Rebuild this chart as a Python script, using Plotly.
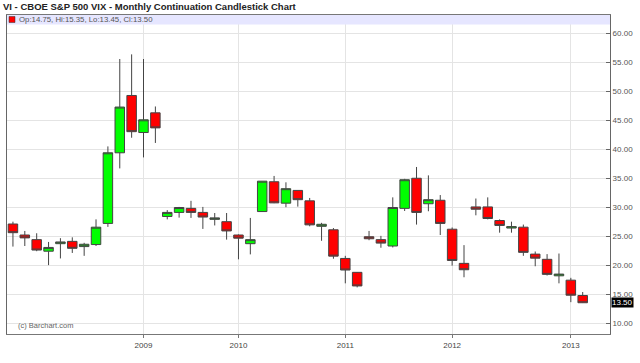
import plotly.graph_objects as go

# ---- data (monthly continuation bars) ----
bar_no = list(range(49))
opens = [27.1, 25.2, 24.4, 22.4, 23.7, 24.1, 23.2, 23.55, 27.2, 39.4, 49.3, 42.9, 46.3,
         28.4, 29.1, 29.8, 29.1, 27.9, 27.5, 25.2, 23.7, 29.25, 34.4, 30.7, 32.9, 31.1,
         26.7, 26.1, 21.15, 18.75, 24.9, 24.4, 23.3, 29.8, 35.0, 30.6, 31.2, 26.2, 20.3,
         30.05, 30.05, 27.7, 26.4, 26.55, 21.9, 21.0, 18.15, 17.4, 14.75]
highs = [27.5, 25.9, 25.5, 24.0, 24.65, 24.8, 23.85, 27.9, 40.5, 55.6, 56.4, 55.6, 47.4,
         29.5, 30.05, 31.1, 30.05, 29.0, 29.0, 25.3, 28.15, 34.5, 35.4, 34.3, 32.9, 31.6,
         27.3, 26.4, 21.6, 18.8, 25.9, 25.05, 31.7, 34.9, 36.95, 35.5, 32.1, 26.5, 23.45,
         31.5, 31.7, 27.9, 27.5, 27.0, 22.35, 21.9, 22.0, 17.8, 15.35]
lows = [23.2, 23.3, 22.4, 20.0, 21.15, 22.1, 21.6, 23.3, 26.6, 36.7, 42.0, 38.6, 41.1,
        27.9, 28.2, 28.15, 26.25, 26.85, 24.4, 21.0, 21.85, 29.2, 30.7, 30.0, 30.1, 26.7,
        24.2, 21.1, 16.85, 16.15, 24.3, 23.0, 23.05, 29.35, 27.0, 29.3, 25.2, 19.9, 17.9,
        28.6, 27.9, 25.6, 25.6, 21.6, 19.8, 18.2, 16.85, 13.6, 13.45]
closes = [25.6, 24.7, 22.6, 23.05, 24.0, 22.9, 23.6, 26.55, 39.4, 47.3, 43.05, 45.1, 43.7,
          29.1, 29.95, 29.1, 28.3, 28.15, 25.9, 24.65, 24.4, 34.5, 30.75, 33.2, 31.3, 26.95,
          27.05, 21.55, 19.15, 16.4, 24.55, 23.8, 29.95, 34.75, 29.1, 31.3, 27.2, 20.8, 19.2,
          29.65, 28.05, 26.85, 26.65, 22.2, 21.2, 18.4, 18.45, 14.8, 13.50]

year_start_bar = [11, 19, 28, 37, 47]
year_labels = ["2009", "2010", "2011", "2012", "2013"]
price_ticks = [10, 15, 20, 25, 30, 35, 40, 45, 50, 55, 60]

title_text = "VI - CBOE S&P 500 VIX - Monthly Continuation Candlestick Chart"

fig = go.Figure()
fig.add_trace(go.Candlestick(
    x=bar_no, open=opens, high=highs, low=lows, close=closes,
    increasing=dict(fillcolor="#00FF00", line=dict(color="#444444", width=1)),
    decreasing=dict(fillcolor="#FF0000", line=dict(color="#444444", width=1)),
    showlegend=False, hoverinfo="skip",
))

W, H = 640, 363
ml, mr, mt, mb = 7, 30, 15, 29
pw, ph = W - ml - mr, H - mt - mb

last = closes[-1]
legend_txt = "Op:%.2f, Hi:%.2f, Lo:%.2f, Cl:%.2f" % (opens[-1], highs[-1], lows[-1], closes[-1])

fig.update_layout(
    width=W, height=H,
    margin=dict(l=ml, r=mr, t=mt, b=mb, pad=0),
    paper_bgcolor="white", plot_bgcolor="white",
    boxgap=0.2, boxgroupgap=0,
    title=dict(text="<b>" + title_text + "</b>", xref="container", yref="container",
               x=3 / W, xanchor="left", y=1 - 7 / H, yanchor="middle",
               font=dict(family="Liberation Sans, Arial", size=9.5, color="#222222")),
    xaxis=dict(range=[-0.5, 50.3], tickmode="array", tickvals=year_start_bar, ticktext=year_labels,
               showgrid=True, gridcolor="#e4e4e4", gridwidth=1,
               showline=True, linecolor="#777777", mirror=True, linewidth=1,
               ticks="outside", ticklen=3, tickcolor="#777777",
               tickfont=dict(family="Liberation Sans, Arial", size=8, color="#444444"),
               rangeslider=dict(visible=False), zeroline=False, fixedrange=True),
    yaxis=dict(range=[8.1, 63.2], side="right", tickmode="array", tickvals=price_ticks,
               tickformat=".2f", showgrid=True, gridcolor="#e4e4e4", gridwidth=1,
               showline=True, linecolor="#666666", mirror=True, linewidth=1,
               ticks="inside", ticklen=4, tickcolor="#666666",
               tickfont=dict(family="Liberation Sans, Arial", size=8, color="#555555"),
               zeroline=False, fixedrange=True),
    shapes=[
        dict(type="rect", xref="paper", yref="paper", x0=0, x1=1,
             y0=1 - 9.5 / ph, y1=1, fillcolor="#E6E6FF", line=dict(width=0), layer="above"),
        dict(type="rect", xref="paper", yref="paper", x0=2 / pw, x1=8 / pw,
             y0=1 - 7.5 / ph, y1=1 - 1.5 / ph, fillcolor="#FF0000",
             line=dict(color="#333333", width=0.5), layer="above"),
    ],
    annotations=[
        dict(xref="paper", yref="paper", x=10 / pw, y=1 - 4.8 / ph, xanchor="left", yanchor="middle",
             text=legend_txt, showarrow=False,
             font=dict(family="Liberation Sans, Arial", size=7.8, color="#555555")),
        dict(xref="paper", yref="paper", x=9 / pw, y=9 / ph, xanchor="left", yanchor="middle",
             text="(c) Barchart.com", showarrow=False,
             font=dict(family="Liberation Sans, Arial", size=7.5, color="#666666")),
        dict(xref="paper", yref="y", x=1 + 1 / pw, y=last, xanchor="left", yanchor="middle",
             text="%.2f" % last, showarrow=False, bgcolor="#000000", borderpad=0,
             font=dict(family="Liberation Sans, Arial", size=8, color="#FFFFFF")),
    ],
)

fig.write_html("out.html", config={"displayModeBar": False},
               post_script="document.body.style.margin='0';document.body.style.overflow='hidden';")
